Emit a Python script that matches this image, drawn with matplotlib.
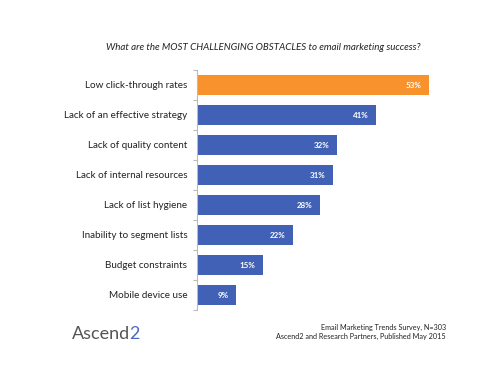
import matplotlib.pyplot as plt

plt.rcParams['font.family'] = ['Lato', 'DejaVu Sans']

categories = [
    "Low click-through rates",
    "Lack of an effective strategy",
    "Lack of quality content",
    "Lack of internal resources",
    "Lack of list hygiene",
    "Inability to segment lists",
    "Budget constraints",
    "Mobile device use",
]
values = [53, 41, 32, 31, 28, 22, 15, 9]
colors = ["#F7922D"] + ["#4061B6"] * 7

title = "What are the MOST CHALLENGING OBSTACLES to email marketing success?"
source_lines = ["Email Marketing Trends Survey, N=303",
                "Ascend2 and Research Partners, Published May 2015"]

fig = plt.figure(figsize=(5.02, 3.76), dpi=100)
ax = fig.add_axes([197 / 502, 1 - 310 / 376, 262.6 / 502, 240 / 376])

y = list(range(len(categories)))
bars = ax.barh(y, values, height=0.66, color=colors, zorder=2)
ax.set_ylim(len(categories) - 0.5, -0.5)
ax.set_xlim(0, 60)

for b, v in zip(bars, values):
    ax.text(b.get_width() - 1.7, b.get_y() + b.get_height() / 2, f"{v}%",
            ha="right", va="center", color="white", fontsize=5.8,
            fontweight="bold")

ax.set_yticks(y)
ax.set_yticklabels(categories, fontsize=7.1, color="#222222")
ax.set_yticks([i + 0.5 for i in range(-1, len(categories))], minor=True)
ax.tick_params(axis="y", which="major", length=0, pad=7)
ax.tick_params(axis="y", which="minor", length=3, color="#BBBBBB", width=0.8)
ax.set_xticks([])
for s in ["top", "right", "bottom"]:
    ax.spines[s].set_visible(False)
ax.spines["left"].set_color("#BBBBBB")
ax.spines["left"].set_linewidth(0.8)

fig.text(263 / 502, 1 - 47 / 376, title, ha="center", va="center",
         fontsize=7.05, style="italic", color="#222222")

for i, line in enumerate(source_lines):
    fig.text(446 / 502, 1 - (327 + 9 * i) / 376, line, ha="right",
             va="center", fontsize=5.2, color="#222222")

# logo: grey "Ascend" followed by a blue "2"
logo = fig.text(72 / 502, 1 - 339 / 376, "Ascend", ha="left",
                va="baseline", fontsize=13, color="#555555")
ax.annotate("2", xy=(1, 0), xycoords=logo, xytext=(-0.5, 0),
            textcoords="offset points", ha="left", va="bottom",
            fontsize=13, color="#4A6BC0", annotation_clip=False)

fig.savefig("out.png", dpi=100)
